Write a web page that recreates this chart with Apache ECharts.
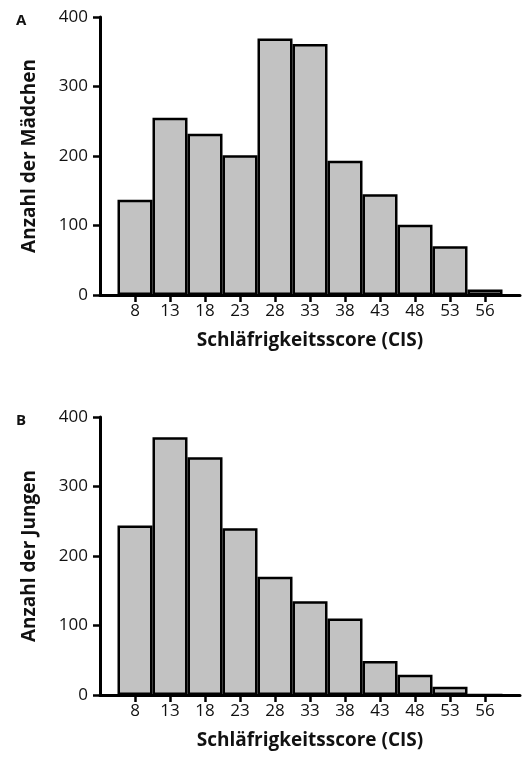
<!DOCTYPE html>
<html>
<head>
<meta charset="utf-8">
<script src="https://cdn.jsdelivr.net/npm/echarts@6/dist/echarts.min.js"></script>
<style>
  html, body { margin: 0; padding: 0; background: #fff; }
  #chart { width: 526px; height: 758px; }
</style>
</head>
<body>
<div id="chart"></div>
<script>
// CIS-Klassen (Klassenmitte) und Häufigkeiten
const categories = ['8', '13', '18', '23', '28', '33', '38', '43', '48', '53', '56'];
const girls = [137, 255, 232, 201, 369, 361, 193, 145, 101, 70, 8];
const boys = [244, 371, 342, 240, 170, 135, 110, 49, 29, 12, 0];
const yTicks = [0, 100, 200, 300, 400];

const FONT = '"Open Sans", "Noto Sans", sans-serif';
const tickIdx = categories.map((c, i) => i);

function panel(idx, top, yName) {
  const grid = { left: 100, top: top, width: 420, height: 278 };
  const xAxis = {
    gridIndex: idx,
    type: 'value',
    min: -1,
    max: 11,
    interval: 1,
    name: 'Schläfrigkeitsscore (CIS)',
    nameLocation: 'middle',
    nameGap: 36,
    nameTextStyle: { fontFamily: FONT, fontSize: 19, fontWeight: 'bold', color: '#111' },
    splitLine: { show: false },
    axisLine: { onZero: false, lineStyle: { color: '#000', width: 3 } },
    axisTick: { customValues: tickIdx, length: 7, lineStyle: { color: '#000', width: 2.5 } },
    axisLabel: {
      customValues: tickIdx,
      formatter: v => categories[v] || '',
      fontFamily: FONT, fontSize: 17, color: '#111', margin: 8
    }
  };
  const yAxis = {
    gridIndex: idx,
    type: 'value',
    min: 0,
    max: 400,
    interval: 100,
    name: yName,
    nameLocation: 'middle',
    nameGap: 61,
    nameTextStyle: { fontFamily: FONT, fontSize: 19, fontWeight: 'bold', color: '#111' },
    splitLine: { show: false },
    axisLine: { show: true, onZero: false, lineStyle: { color: '#000', width: 3 } },
    axisTick: { show: true, length: 7, lineStyle: { color: '#000', width: 2.5 } },
    axisLabel: { fontFamily: FONT, fontSize: 17, color: '#111', margin: 12 }
  };
  return { grid, xAxis, yAxis };
}

const pA = panel(0, 17, 'Anzahl der Mädchen');
const pB = panel(1, 417, 'Anzahl der Jungen');

function barSeries(idx, values) {
  return {
    type: 'bar',
    xAxisIndex: idx,
    yAxisIndex: idx,
    barWidth: 35,
    data: values.map((v, i) => [i, v]),
    itemStyle: { color: '#c2c2c2', borderColor: '#000', borderWidth: 2.5 },
    silent: true
  };
}

const chart = echarts.init(document.getElementById('chart'), null, { renderer: 'canvas' });
chart.setOption({
  animation: false,
  backgroundColor: '#fff',
  title: [
    { text: 'A', left: 11, top: 8, textStyle: { fontFamily: FONT, fontSize: 15, fontWeight: 'bold', color: '#111' } },
    { text: 'B', left: 11, top: 408, textStyle: { fontFamily: FONT, fontSize: 15, fontWeight: 'bold', color: '#111' } }
  ],
  grid: [pA.grid, pB.grid],
  xAxis: [pA.xAxis, pB.xAxis],
  yAxis: [pA.yAxis, pB.yAxis],
  series: [barSeries(0, girls), barSeries(1, boys)]
});
</script>
</body>
</html>
